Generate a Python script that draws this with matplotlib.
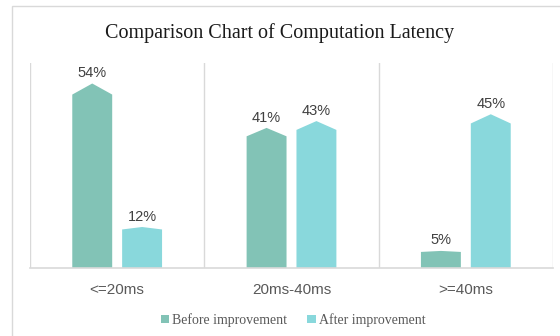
import numpy as np
import matplotlib.pyplot as plt
from matplotlib.patches import Polygon, Rectangle

categories = ['<=20ms', '20ms-40ms', '>=40ms']
before = [54, 41, 5]
after = [12, 43, 45]
series_names = ['Before improvement', 'After improvement']
colors = ['#82c3b6', '#89d8dc']

W, H = 560, 336
fig = plt.figure(figsize=(W / 100, H / 100), dpi=100)

# outer chart frame (only top and left edges visible)
fig.patches.append(Rectangle((12 / W, -0.1), 1.2, (H - 6) / H + 0.1,
                             transform=fig.transFigure, fill=False,
                             edgecolor='#d9d9d9', linewidth=1.0))

ax = fig.add_axes([30 / W, (H - 268) / H, 523 / W, 205 / H])
ax.set_xlim(-0.5, len(categories) - 0.5)
ax.set_ylim(0, 60)

bar_w = 0.229
offset = 0.143


def arrow_bar(xc, v, color):
    shoulder = v * 0.94
    pts = [(xc - bar_w / 2, 0), (xc - bar_w / 2, shoulder), (xc, v),
           (xc + bar_w / 2, shoulder), (xc + bar_w / 2, 0)]
    ax.add_patch(Polygon(pts, closed=True, facecolor=color, edgecolor='none'))
    ax.text(xc, v + 1.0, f'{v}%', ha='center', va='bottom', fontsize=10.5,
            color='#404040', family='Liberation Sans')


x = np.arange(len(categories))
for i in range(len(categories)):
    arrow_bar(x[i] - offset, before[i], colors[0])
    arrow_bar(x[i] + offset, after[i], colors[1])

for b in np.arange(-0.5, len(categories), 1.0):
    ax.axvline(b, color='#d9d9d9', linewidth=1.0, zorder=0)

for s in ax.spines.values():
    s.set_visible(False)
ax.spines['bottom'].set_visible(True)
ax.spines['bottom'].set_color('#d9d9d9')
ax.spines['bottom'].set_linewidth(1.2)
ax.set_yticks([])
ax.set_xticks(x)
ax.set_xticklabels(categories, fontsize=11, color='#595959', family='Liberation Sans')
ax.tick_params(axis='x', length=0, pad=11)

fig.text(0.5, (H - 33) / H, 'Comparison Chart of Computation Latency',
         ha='center', va='center', fontsize=14.5, family='Liberation Serif',
         color='#1a1a1a')

handles = [Rectangle((0, 0), 1, 1, facecolor=c, edgecolor='none') for c in colors]
fig.legend(handles, series_names, loc='center', bbox_to_anchor=(0.523, (H - 320) / H),
           ncol=2, frameon=False, handlelength=0.6, handleheight=0.6,
           handletextpad=0.2, columnspacing=1.5,
           prop={'family': 'Liberation Serif', 'size': 10}, labelcolor='#595959')

fig.savefig('out.png', dpi=100)
